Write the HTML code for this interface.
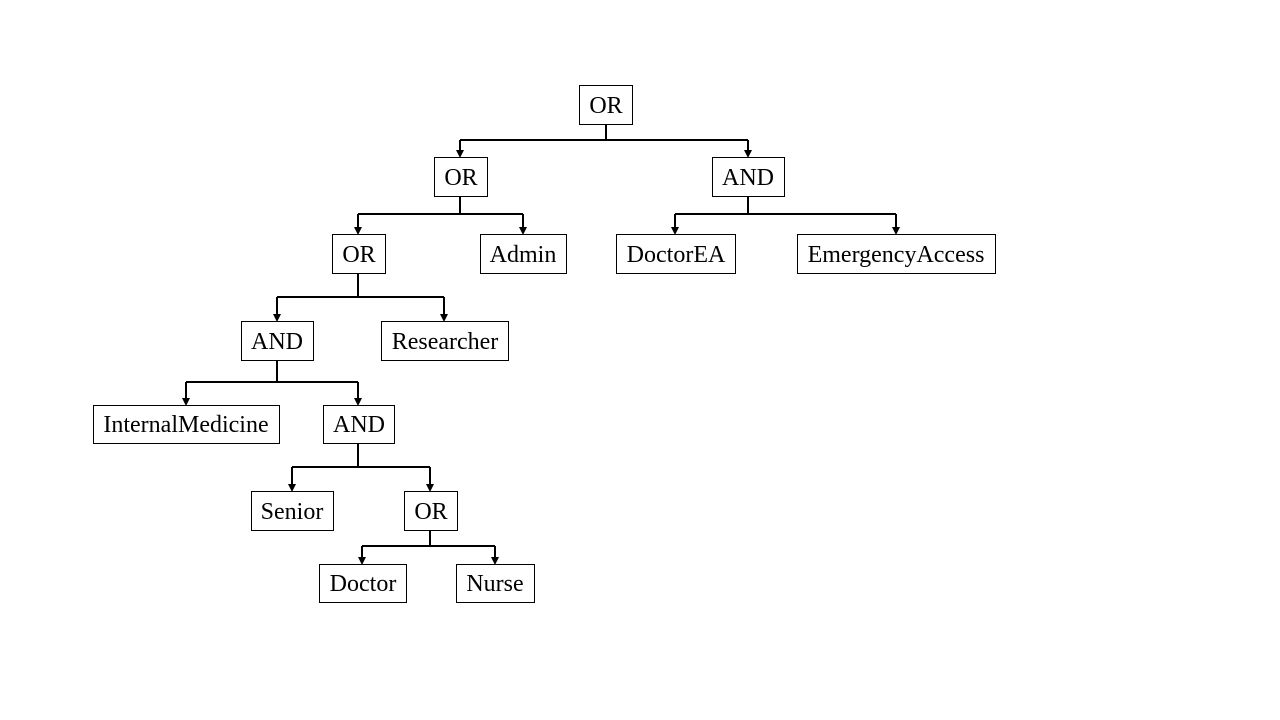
<!DOCTYPE html>
<html><head><style>body{margin:0;background:#fff}svg{display:block}</style></head><body>
<svg width="1280" height="720" xmlns="http://www.w3.org/2000/svg" font-family="Liberation Serif, serif" font-size="24">
<g fill="#fff" stroke="#000" stroke-width="1">
<rect x="579.5" y="85.5" width="53" height="39"/>
<rect x="434.5" y="157.5" width="53" height="39"/>
<rect x="712.5" y="157.5" width="72" height="39"/>
<rect x="332.5" y="234.5" width="53" height="39"/>
<rect x="480.5" y="234.5" width="86" height="39"/>
<rect x="616.5" y="234.5" width="119" height="39"/>
<rect x="797.5" y="234.5" width="198" height="39"/>
<rect x="241.5" y="321.5" width="72" height="39"/>
<rect x="381.5" y="321.5" width="127" height="39"/>
<rect x="93.5" y="405.5" width="186" height="38"/>
<rect x="323.5" y="405.5" width="71" height="38"/>
<rect x="251.5" y="491.5" width="82" height="39"/>
<rect x="404.5" y="491.5" width="53" height="39"/>
<rect x="319.5" y="564.5" width="87" height="38"/>
<rect x="456.5" y="564.5" width="78" height="38"/>
</g>
<g fill="none" stroke="#000" stroke-width="2">
<path d="M606,125V140M460,140H748M460,140V150M748,140V150"/>
<path d="M460,197V214M358,214H523M358,214V227M523,214V227"/>
<path d="M748,197V214M675,214H896M675,214V227M896,214V227"/>
<path d="M358,274V297M277,297H444M277,297V314M444,297V314"/>
<path d="M277,361V382M186,382H358M186,382V398M358,382V398"/>
<path d="M358,444V467M292,467H430M292,467V484M430,467V484"/>
<path d="M430,531V546M362,546H495M362,546V557M495,546V557"/>
</g>
<g fill="#000">
<path d="M456,150h8l-4,8z M744,150h8l-4,8z M354,227h8l-4,8z M519,227h8l-4,8z M671,227h8l-4,8z M892,227h8l-4,8z M273,314h8l-4,8z M440,314h8l-4,8z M182,398h8l-4,8z M354,398h8l-4,8z M288,484h8l-4,8z M426,484h8l-4,8z M358,557h8l-4,8z M491,557h8l-4,8z"/>
</g>
<g text-anchor="middle" fill="#000">
<text x="606" y="113">OR</text>
<text x="461" y="185">OR</text>
<text x="748" y="185">AND</text>
<text x="359" y="262">OR</text>
<text x="523" y="262">Admin</text>
<text x="676" y="262">DoctorEA</text>
<text x="896" y="262">EmergencyAccess</text>
<text x="277" y="349">AND</text>
<text x="445" y="349">Researcher</text>
<text x="186" y="432">InternalMedicine</text>
<text x="359" y="432">AND</text>
<text x="292" y="519">Senior</text>
<text x="431" y="519">OR</text>
<text x="363" y="591">Doctor</text>
<text x="495" y="591">Nurse</text>
</g>
</svg>
</body></html>
